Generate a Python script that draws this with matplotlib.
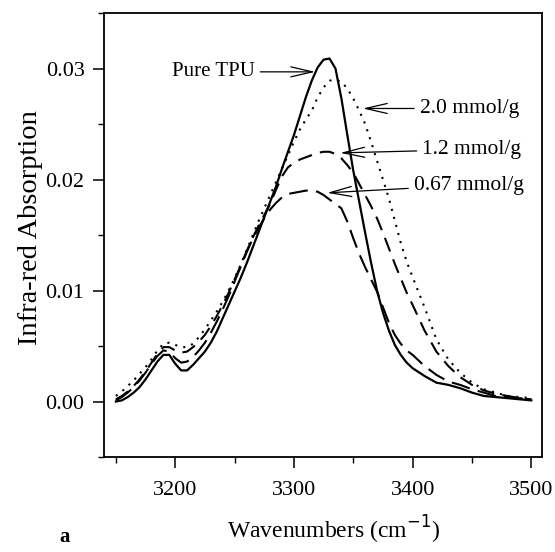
import numpy as np
import matplotlib.pyplot as plt
from matplotlib.ticker import MultipleLocator

plt.rcParams['font.family'] = ['Liberation Serif', 'DejaVu Serif']

# wavenumber grid (cm-1), finer where the bands are
wavenumber = [3150, 3155, 3160, 3165, 3170, 3175, 3180, 3185, 3190, 3195,
              3200, 3205, 3210, 3215, 3220, 3225, 3230, 3235, 3240, 3245,
              3250, 3255, 3260, 3265, 3270, 3275, 3280, 3285, 3290, 3295,
              3300, 3305, 3310, 3315, 3320, 3325, 3330, 3335, 3340, 3345,
              3350, 3355, 3360, 3365, 3370, 3375, 3380, 3385, 3390, 3395,
              3400, 3410, 3420, 3430, 3440, 3450, 3460, 3470, 3480, 3490,
              3500]

pure_tpu = [0.0000, 0.0001, 0.0004, 0.0008, 0.0013, 0.0020, 0.0028, 0.0036, 0.0042, 0.0042,
            0.0034, 0.0028, 0.0028, 0.0033, 0.0039, 0.0045, 0.0053, 0.0063, 0.0075, 0.0087,
            0.0099, 0.0111, 0.0124, 0.0138, 0.0152, 0.0166, 0.0180, 0.0194, 0.0210, 0.0225,
            0.0240, 0.0257, 0.0274, 0.0289, 0.0301, 0.0308, 0.0309, 0.0300, 0.0273, 0.0240,
            0.0208, 0.0180, 0.0152, 0.0125, 0.0100, 0.0080, 0.0064, 0.0051, 0.0042, 0.0035,
            0.0030, 0.0023, 0.0017, 0.0015, 0.0012, 0.0008, 0.0005, 0.0004, 0.0003, 0.0002,
            0.0001]

mmol_2_0 = [0.0005, 0.0009, 0.0014, 0.0019, 0.0025, 0.0031, 0.0038, 0.0046, 0.0052, 0.0053,
            0.0051, 0.0049, 0.0049, 0.0052, 0.0058, 0.0065, 0.0073, 0.0081, 0.0090, 0.0100,
            0.0111, 0.0123, 0.0136, 0.0149, 0.0162, 0.0174, 0.0186, 0.0198, 0.0210, 0.0222,
            0.0234, 0.0245, 0.0254, 0.0262, 0.0274, 0.0283, 0.0289, 0.0290, 0.0288, 0.0282,
            0.0273, 0.0262, 0.0250, 0.0234, 0.0217, 0.0200, 0.0183, 0.0163, 0.0143, 0.0126,
            0.0112, 0.0085, 0.0056, 0.0038, 0.0026, 0.0017, 0.0011, 0.0008, 0.0005, 0.0004,
            0.0003]

mmol_1_2 = [0.0002, 0.0005, 0.0009, 0.0014, 0.0020, 0.0027, 0.0035, 0.0043, 0.0049, 0.0049,
            0.0046, 0.0044, 0.0045, 0.0049, 0.0054, 0.0060, 0.0068, 0.0077, 0.0087, 0.0098,
            0.0110, 0.0122, 0.0135, 0.0147, 0.0158, 0.0168, 0.0178, 0.0191, 0.0203, 0.0211,
            0.0215, 0.0218, 0.0220, 0.0222, 0.0224, 0.0225, 0.0225, 0.0223, 0.0219, 0.0213,
            0.0206, 0.0196, 0.0186, 0.0176, 0.0165, 0.0152, 0.0138, 0.0124, 0.0111, 0.0098,
            0.0087, 0.0064, 0.0045, 0.0032, 0.0022, 0.0015, 0.0010, 0.0007, 0.0005, 0.0003,
            0.0002]

mmol_0_67 = [0.0001, 0.0004, 0.0008, 0.0013, 0.0019, 0.0026, 0.0034, 0.0041, 0.0046, 0.0045,
             0.0039, 0.0035, 0.0036, 0.0040, 0.0046, 0.0053, 0.0062, 0.0072, 0.0083, 0.0095,
             0.0108, 0.0121, 0.0134, 0.0146, 0.0156, 0.0165, 0.0173, 0.0179, 0.0184, 0.0187,
             0.0188, 0.0189, 0.0190, 0.0190, 0.0189, 0.0186, 0.0182, 0.0178, 0.0174, 0.0162,
             0.0147, 0.0133, 0.0121, 0.0110, 0.0099, 0.0085, 0.0071, 0.0060, 0.0052, 0.0046,
             0.0042, 0.0032, 0.0024, 0.0018, 0.0015, 0.0011, 0.0008, 0.0005, 0.0004, 0.0003,
             0.0002]

fig = plt.figure(figsize=(5.55, 5.52), dpi=100)
ax = fig.add_axes([0.1874, 0.1721, 0.7892, 0.8043])

ax.plot(wavenumber, pure_tpu, color='black', lw=1.6, ls='-')
ax.plot(wavenumber, mmol_2_0, color='black', lw=1.5, ls=(0, (1, 3)))
ax.plot(wavenumber, mmol_1_2, color='black', lw=1.5, ls=(0, (7, 4)))
ax.plot(wavenumber, mmol_0_67, color='black', lw=1.5, ls=(0, (9, 4)))

ax.set_xlim(3140, 3509)
ax.set_ylim(-0.005, 0.035)
ax.set_xticks([3200, 3300, 3400, 3500])
ax.set_yticks([0.00, 0.01, 0.02, 0.03])
ax.set_yticklabels(['0.00', '0.01', '0.02', '0.03'])
ax.xaxis.set_minor_locator(MultipleLocator(50))
ax.yaxis.set_minor_locator(MultipleLocator(0.005))
ax.tick_params(which='major', direction='out', length=8, width=1.1, labelsize=16, pad=6)
ax.tick_params(axis='x', which='major', pad=9)
ax.tick_params(which='minor', direction='out', length=4, width=1.0)
for s in ax.spines.values():
    s.set_linewidth(1.3)

ax.set_ylabel('Infra-red Absorption', fontsize=20.5)
ax.yaxis.set_label_coords(-0.14, 0.516)
ax.set_xlabel('Wavenumbers (cm$^{-1}$)', fontsize=17)
ax.xaxis.set_label_coords(0.525, -0.128)
fig.text(0.117, 0.018, 'a', fontsize=15, fontweight='bold', ha='center')

arrow = dict(arrowstyle='->,head_length=1.3,head_width=0.3', color='black',
             lw=0.9, mutation_scale=12, shrinkB=0)
ax.annotate('Pure TPU', xy=(3318, 0.0297), xytext=(3267, 0.0297),
            ha='right', va='center', fontsize=15, arrowprops=arrow)
ax.annotate('2.0 mmol/g', xy=(3358, 0.0264), xytext=(3406, 0.0264),
            ha='left', va='center', fontsize=15.5, arrowprops=arrow)
ax.annotate('1.2 mmol/g', xy=(3339, 0.0224), xytext=(3408, 0.0227),
            ha='left', va='center', fontsize=15.5, arrowprops=arrow)
ax.annotate('0.67 mmol/g', xy=(3328, 0.0188), xytext=(3401, 0.0195),
            ha='left', va='center', fontsize=15.5, arrowprops=arrow)

fig.savefig('out.png', dpi=100)
